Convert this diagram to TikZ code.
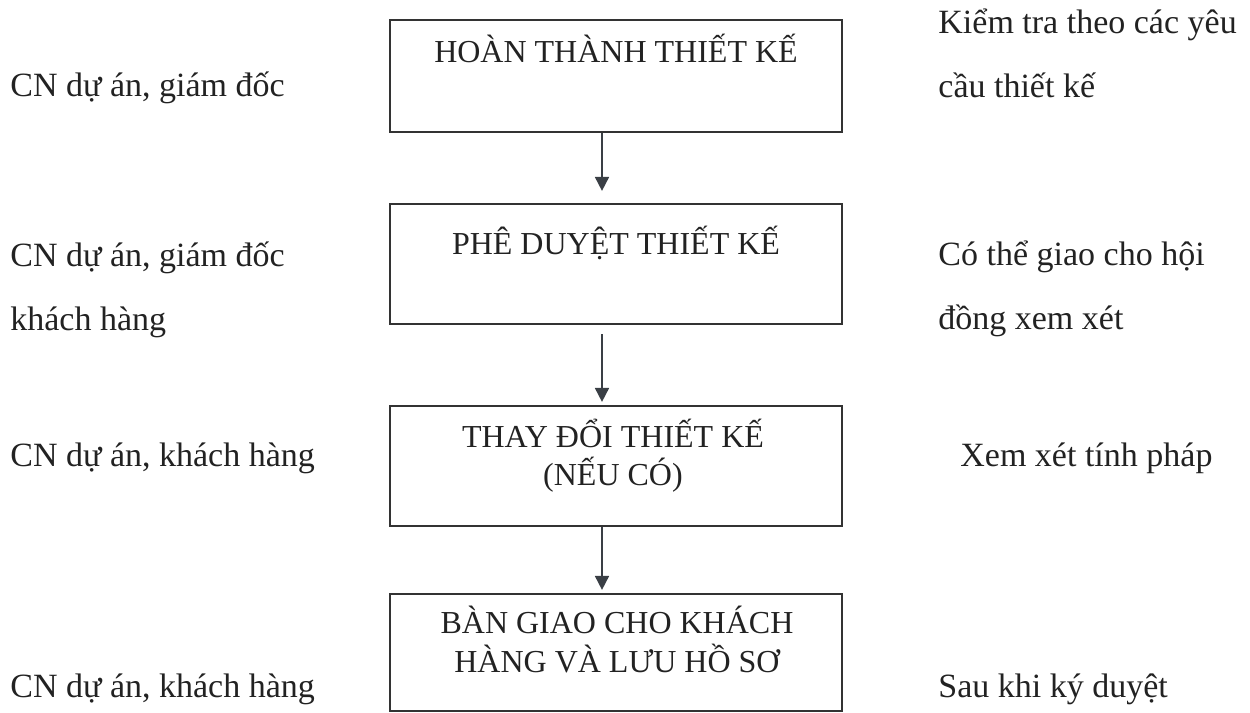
\documentclass[tikz,border=0pt]{standalone}
\usepackage{fontspec}
\setmainfont{Liberation Serif}
\usepackage{tikz}
\usetikzlibrary{arrows.meta,positioning}
\definecolor{inkgray}{HTML}{222222}
\definecolor{framegray}{HTML}{333333}
\definecolor{arrowgray}{HTML}{3A3F45}

\begin{document}
\begin{tikzpicture}[x=0.5pt,y=-0.5pt,
  stage/.style={draw=framegray,line width=1.1pt,minimum width=226pt},
  stagetext/.style={anchor=base,align=center,inner sep=0pt,text=inkgray,font=\fontsize{16}{19}\selectfont},
  side/.style={anchor=base west,align=left,inner sep=0pt,text=inkgray,font=\fontsize{17}{32}\selectfont},
  flow/.style={draw=arrowgray,line width=0.9pt,-{Triangle[width=7pt,length=7pt]}}]
  \useasboundingbox (0,0) rectangle (1250,713);

  \node[stage,minimum height=56pt]   (b1) at (616,76)    {};
  \node[stage,minimum height=60pt]   (b2) at (616,264)   {};
  \node[stage,minimum height=60pt]   (b3) at (616,466)   {};
  \node[stage,minimum height=58.5pt] (b4) at (616,652.5) {};

  % multi-line texts sit on their last line
  \node[stagetext] (t1) at (616,62)  {HOÀN THÀNH THIẾT KẾ};
  \node[stagetext] (t2) at (616,254) {PHÊ DUYỆT THIẾT KẾ};
  \node[stagetext] (t3) at (613,485) {THAY ĐỔI THIẾT KẾ\\(NẾU CÓ)};
  \node[stagetext,font=\fontsize{16}{19.5}\selectfont] (t4) at (617,672) {BÀN GIAO CHO KHÁCH\\HÀNG VÀ LƯU HỒ SƠ};

  \node[side] (l1) at (10,96)  {CN dự án, giám đốc};
  \node[side] (l2) at (10,330) {CN dự án, giám đốc\\khách hàng};
  \node[side] (l3) at (10,466) {CN dự án, khách hàng};
  \node[side] (l4) at (10,697) {CN dự án, khách hàng};

  \node[side] (r1) at (938,97)  {Kiểm tra theo các yêu\\cầu thiết kế};
  \node[side] (r2) at (938,329) {Có thể giao cho hội\\đồng xem xét};
  \node[side] (r3) at (960,466) {Xem xét tính pháp};
  \node[side] (r4) at (938,697) {Sau khi ký duyệt};

  \coordinate (ax) at (602,0);
  \draw[flow,shorten >=6pt] (b1.south -| ax) -- (b2.north -| ax);
  \draw[flow,shorten <=4.5pt,shorten >=1.5pt] (b2.south -| ax) -- (b3.north -| ax);
  \draw[flow,shorten >=1.5pt] (b3.south -| ax) -- (b4.north -| ax);
\end{tikzpicture}
\end{document}
